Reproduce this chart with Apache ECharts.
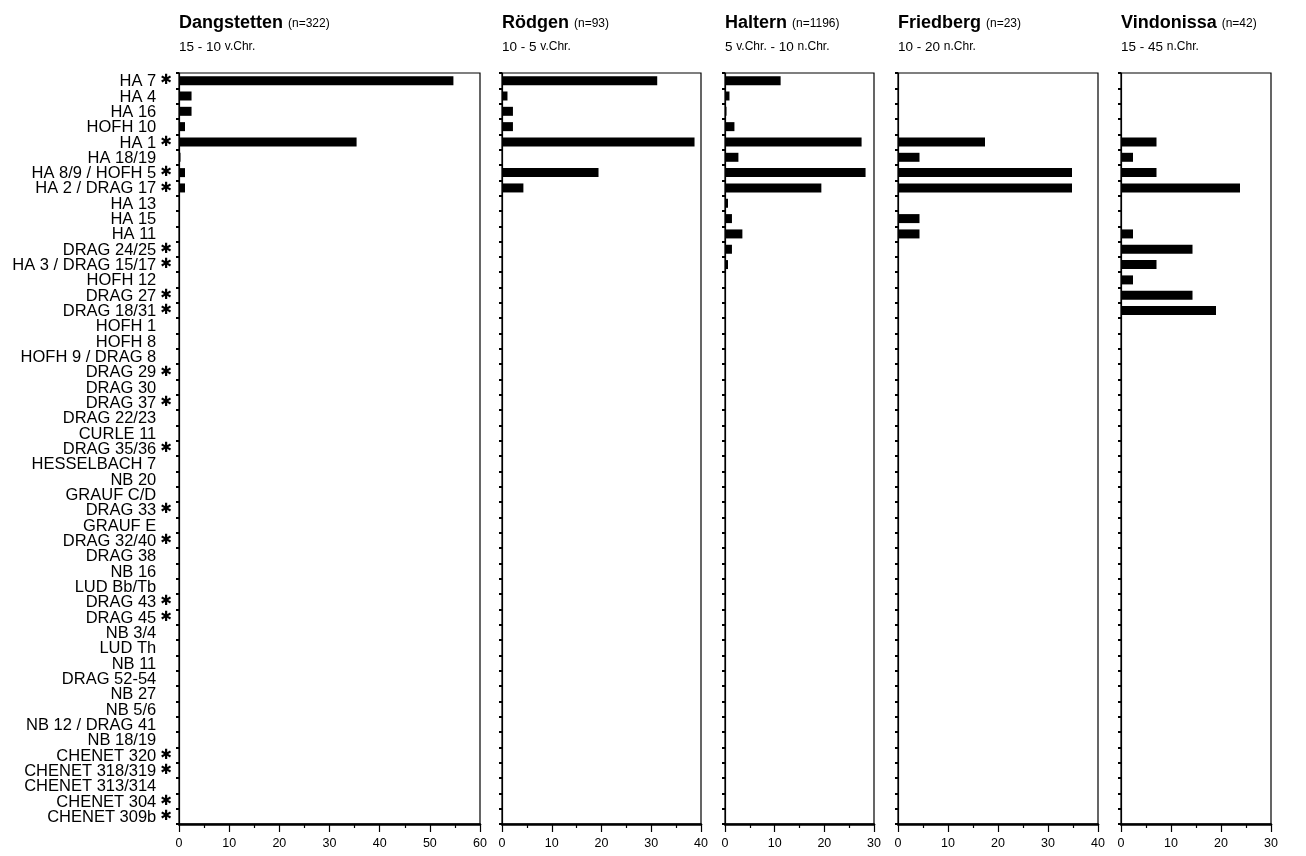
<!DOCTYPE html>
<html><head><meta charset="utf-8">
<script src="https://cdn.jsdelivr.net/npm/echarts@6/dist/echarts.min.js"></script>
<style>html,body{margin:0;padding:0;background:#fff}#c{width:1306px;height:856px}</style>
</head><body><div id="c"></div>
<script>
const categories = ['HA 7','HA 4','HA 16','HOFH 10','HA 1','HA 18/19','HA 8/9 / HOFH 5','HA 2 / DRAG 17','HA 13','HA 15','HA 11','DRAG 24/25','HA 3 / DRAG 15/17','HOFH 12','DRAG 27','DRAG 18/31','HOFH 1','HOFH 8','HOFH 9 / DRAG 8','DRAG 29','DRAG 30','DRAG 37','DRAG 22/23','CURLE 11','DRAG 35/36','HESSELBACH 7','NB 20','GRAUF C/D','DRAG 33','GRAUF E','DRAG 32/40','DRAG 38','NB 16','LUD Bb/Tb','DRAG 43','DRAG 45','NB 3/4','LUD Th','NB 11','DRAG 52-54','NB 27','NB 5/6','NB 12 / DRAG 41','NB 18/19','CHENET 320','CHENET 318/319','CHENET 313/314','CHENET 304','CHENET 309b'];
const starred = ['HA 7','HA 1','HA 8/9 / HOFH 5','HA 2 / DRAG 17','DRAG 24/25','HA 3 / DRAG 15/17','DRAG 27','DRAG 18/31','DRAG 29','DRAG 37','DRAG 35/36','DRAG 33','DRAG 32/40','DRAG 43','DRAG 45','CHENET 320','CHENET 318/319','CHENET 304','CHENET 309b'];
const sites = ['Dangstetten','Rödgen','Haltern','Friedberg','Vindonissa'];
const counts = ['(n=322)','(n=93)','(n=1196)','(n=23)','(n=42)'];
const periods = ['15 - 10 v.Chr.','10 - 5 v.Chr.','5 v.Chr. - 10 n.Chr.','10 - 20 n.Chr.','15 - 45 n.Chr.'];
const axisMax = [60, 40, 30, 40, 30];
const axisTickStep = [10, 10, 10, 10, 10];

const dangstetten = [54.7,2.5,2.5,1.2,35.4,0.3,1.2,1.2,0,0,0,0,0,0,0,0,
  0,0,0,0,0,0,0,0,0,0,0,0,0,0,0,0,0,0,0,0,0,0,0,0,0,0,0,0,0,0,0,0,0];
const roedgen = [31.2,1.1,2.2,2.2,38.7,0,19.4,4.3,0,0,0,0,0,0,0,0,
  0,0,0,0,0,0,0,0,0,0,0,0,0,0,0,0,0,0,0,0,0,0,0,0,0,0,0,0,0,0,0,0,0];
const haltern = [11.2,0.9,0.3,1.9,27.5,2.7,28.3,19.4,0.6,1.4,3.5,1.4,0.6,0,0,0,
  0,0,0,0,0,0,0,0,0,0,0,0,0,0,0,0,0,0,0,0,0,0,0,0,0,0,0,0,0,0,0,0,0];
const friedberg = [0,0,0,0,17.4,4.3,34.8,34.8,0,4.3,4.3,0,0,0,0,0,
  0,0,0,0,0,0,0,0,0,0,0,0,0,0,0,0,0,0,0,0,0,0,0,0,0,0,0,0,0,0,0,0,0];
const vindonissa = [0,0,0,0,7.1,2.4,7.1,23.8,0,0,2.4,14.3,7.1,2.4,14.3,19.0,
  0,0,0,0,0,0,0,0,0,0,0,0,0,0,0,0,0,0,0,0,0,0,0,0,0,0,0,0,0,0,0,0,0];
const siteValues = [dangstetten, roedgen, haltern, friedberg, vindonissa];

const gridLeft = [179, 502, 725, 898, 1121];
const gridWidth = [301, 199, 149, 200, 150];
const gridTop = 73, gridHeight = 751;

const SANS = "'Liberation Sans', Arial, Helvetica, sans-serif";

const chart = echarts.init(document.getElementById('c'), null, {renderer: 'canvas'});

const grids = [], xAxes = [], yAxes = [], series = [], titles = [];
for (let i = 0; i < 5; i++) {
  grids.push({left: gridLeft[i], width: gridWidth[i], top: gridTop, height: gridHeight,
    show: true, borderColor: '#000', borderWidth: 1.2, backgroundColor: 'transparent'});
  xAxes.push({type: 'value', gridIndex: i, min: 0, max: axisMax[i], interval: axisTickStep[i],
    axisLine: {show: true, lineStyle: {color: '#000', width: 2.5}},
    axisTick: {show: true, length: 8, lineStyle: {color: '#000', width: 1.2}},
    minorTick: {show: true, splitNumber: 2, length: 4, lineStyle: {color: '#000', width: 1.2}},
    axisLabel: {color: '#000', fontFamily: SANS, fontSize: 12.5, margin: 13},
    splitLine: {show: false}});
  yAxes.push({type: 'category', gridIndex: i, data: categories, inverse: true,
    axisLine: {show: true, lineStyle: {color: '#000', width: 1.2}},
    axisTick: {show: true, length: 3, lineStyle: {color: '#000', width: 2}},
    axisLabel: {show: i === 0, interval: 0, margin: 7,
      formatter: v => starred.includes(v) ? '{t|' + v + '}{s|✱}' : '{t|' + v + '}{h|✱}',
      rich: {
        t: {fontFamily: SANS, fontSize: 16.5, color: '#000', padding: [2, 0, 0, 0]},
        s: {fontFamily: "'DejaVu Sans', sans-serif", fontSize: 14, color: '#000', padding: [0, 0, 0, 4]},
        h: {fontFamily: "'DejaVu Sans', sans-serif", fontSize: 14, color: 'rgba(0,0,0,0)', padding: [0, 0, 0, 4]}
      }},
    splitLine: {show: false}});
  series.push({type: 'bar', xAxisIndex: i, yAxisIndex: i, data: siteValues[i], barWidth: 9,
    itemStyle: {color: '#000'}, silent: true});
  titles.push({left: gridLeft[i], top: 14, padding: 0,
    text: '{b|' + sites[i] + '} {n|' + counts[i] + '}',
    textStyle: {rich: {
      b: {fontFamily: SANS, fontSize: 18, fontWeight: 'bold', color: '#000'},
      n: {fontFamily: SANS, fontSize: 12, fontWeight: 'normal', color: '#000', padding: [2, 0, 0, 0]}}},
    subtext: periods[i].replace(/([vn]\.Chr\.)/g, '{c|$1}').replace(/(^|\})([^{]+)(?=\{|$)/g, '$1{p|$2}'),
    subtextStyle: {rich: {
      p: {fontFamily: SANS, fontSize: 13.5, color: '#000'},
      c: {fontFamily: SANS, fontSize: 12, color: '#000'}}},
    itemGap: 8});
}

chart.setOption({
  animation: false,
  backgroundColor: '#fff',
  title: titles,
  grid: grids,
  xAxis: xAxes,
  yAxis: yAxes,
  series: series
});
</script>
</body></html>
